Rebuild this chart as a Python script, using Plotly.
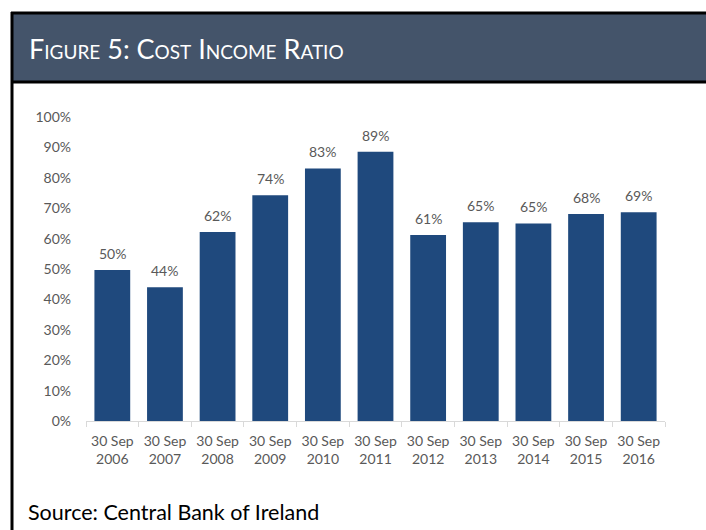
import plotly.graph_objects as go

W, H = 706, 530
L, R, T, B = 86, 41, 117, 109
PW, PH = W - L - R, H - T - B

years = ["2006", "2007", "2008", "2009", "2010", "2011",
         "2012", "2013", "2014", "2015", "2016"]
categories = [f"30 Sep<br>{y}" for y in years]
cost_income = [0.497, 0.440, 0.622, 0.743, 0.831, 0.886,
               0.612, 0.654, 0.650, 0.681, 0.687]
y_ticks = [i / 10 for i in range(11)]

BAR = "#1F497D"
HEADER = "#44546A"
GREY_TXT = "#595959"
AXIS = "#D9D9D9"
FONT = "Lato"


def px(x):
    # figure pixel -> paper x (paper spans the plot area)
    return (x - L) / PW


def py(y):
    return (H - B - y) / PH


fig = go.Figure(go.Bar(
    x=categories,
    y=cost_income,
    marker=dict(color=BAR, line=dict(width=0)),
    width=0.68,
))

value_labels = [
    dict(x=c, y=v, xref="x", yref="y", text=f"{round(v * 100)}%",
         showarrow=False, yanchor="bottom", yshift=6,
         font=dict(family=FONT, size=14, color=GREY_TXT))
    for c, v in zip(categories, cost_income)
]

fig.update_layout(
    width=W, height=H,
    margin=dict(l=L, r=R, t=T, b=B),
    paper_bgcolor="white",
    plot_bgcolor="white",
    showlegend=False,
    font=dict(family=FONT, color=GREY_TXT),
    xaxis=dict(
        showgrid=False,
        showline=True, linecolor=AXIS, linewidth=1,
        ticks="outside", tickson="boundaries", ticklen=5, tickcolor=AXIS,
        tickangle=0, ticklabelstandoff=7,
        tickfont=dict(family=FONT, size=14, color=GREY_TXT),
    ),
    yaxis=dict(
        range=[0, 1],
        tickvals=y_ticks,
        tickformat=".0%",
        showgrid=False, zeroline=False, showline=False,
        ticks="", ticklabelstandoff=14,
        tickfont=dict(family=FONT, size=14, color=GREY_TXT),
    ),
    shapes=[
        # header band
        dict(type="rect", xref="paper", yref="paper",
             x0=px(12), x1=px(720), y0=py(82), y1=py(13),
             fillcolor=HEADER, line=dict(width=0), layer="below"),
        # frame: top, header bottom, left
        dict(type="line", xref="paper", yref="paper",
             x0=px(11), x1=px(720), y0=py(13), y1=py(13),
             line=dict(color="black", width=3)),
        dict(type="line", xref="paper", yref="paper",
             x0=px(11), x1=px(720), y0=py(82), y1=py(82),
             line=dict(color="black", width=3)),
        dict(type="line", xref="paper", yref="paper",
             x0=px(12), x1=px(12), y0=py(12), y1=py(540),
             line=dict(color="black", width=3)),
    ],
    annotations=value_labels + [
        dict(text="Figure 5: Cost Income Ratio",
             xref="paper", yref="paper", x=px(27), y=py(48),
             xanchor="left", yanchor="middle", showarrow=False,
             font=dict(family=FONT, size=27, color="white",
                       variant="small-caps")),
        dict(text="Source: Central Bank of Ireland",
             xref="paper", yref="paper", x=px(26), y=py(512),
             xanchor="left", yanchor="middle", showarrow=False,
             font=dict(family=FONT, size=21.5, color="black")),
    ],
)

fig.write_html("out.html")
